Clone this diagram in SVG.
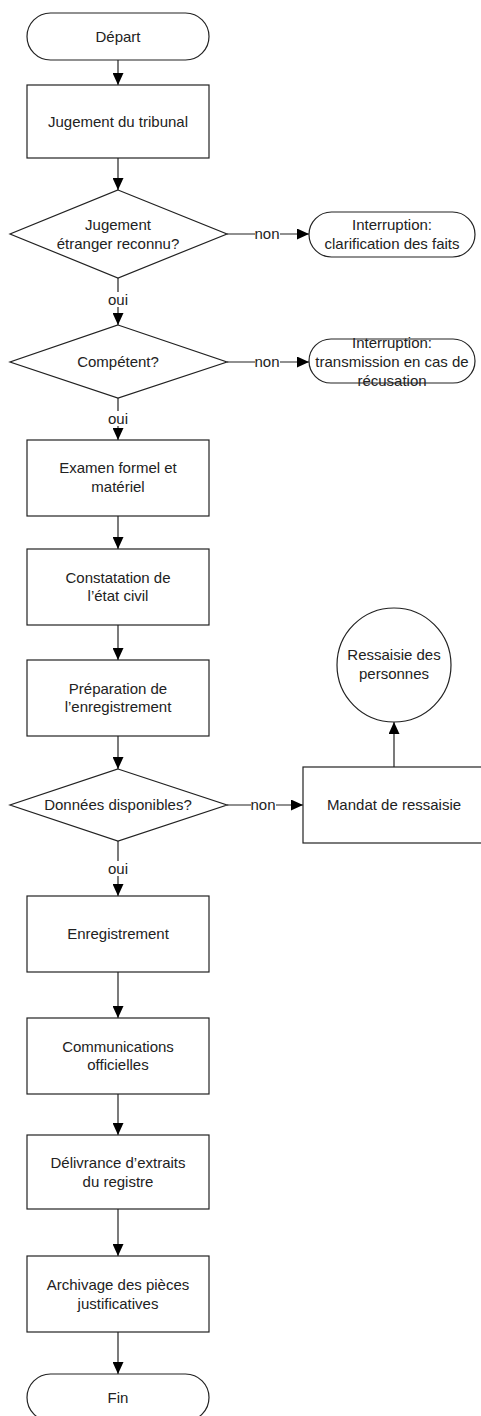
<svg xmlns="http://www.w3.org/2000/svg" width="481" height="1416" viewBox="0 0 481 1416">
<defs>
<marker id="arr" markerUnits="userSpaceOnUse" markerWidth="12" markerHeight="11" viewBox="0 0 12 11" refX="12" refY="5.5" orient="auto">
<path d="M0,0 L12,5.5 L0,11 z" fill="#000"/>
</marker>
<style>
.s{fill:#fff;stroke:#222;stroke-width:1.2}
.c{fill:none;stroke:#222;stroke-width:1.2}
text{font-family:"Liberation Sans",Arial,sans-serif;font-size:15px;fill:#222;text-anchor:middle}
.lb{fill:#fff;stroke:none}
</style>
</defs>
<rect width="481" height="1416" fill="#fff"/>
<g id="connectors">
<line class="c" x1="118" y1="60" x2="118" y2="85" marker-end="url(#arr)"/>
<line class="c" x1="118" y1="158" x2="118" y2="190" marker-end="url(#arr)"/>
<line class="c" x1="227" y1="234" x2="309" y2="234" marker-end="url(#arr)"/>
<rect class="lb" x="255" y="226" width="25" height="16"/>
<text x="267" y="239">non</text>
<line class="c" x1="118" y1="278" x2="118" y2="325" marker-end="url(#arr)"/>
<rect class="lb" x="106" y="292" width="24" height="15"/>
<text x="118" y="305">oui</text>
<line class="c" x1="227" y1="362" x2="309" y2="362" marker-end="url(#arr)"/>
<rect class="lb" x="255" y="354" width="25" height="16"/>
<text x="267" y="367">non</text>
<line class="c" x1="118" y1="398" x2="118" y2="440" marker-end="url(#arr)"/>
<rect class="lb" x="106" y="411" width="24" height="15"/>
<text x="118" y="424">oui</text>
<line class="c" x1="118" y1="516" x2="118" y2="549" marker-end="url(#arr)"/>
<line class="c" x1="118" y1="625" x2="118" y2="660" marker-end="url(#arr)"/>
<line class="c" x1="118" y1="736" x2="118" y2="769" marker-end="url(#arr)"/>
<line class="c" x1="227" y1="805" x2="303" y2="805" marker-end="url(#arr)"/>
<rect class="lb" x="251" y="797" width="25" height="16"/>
<text x="263" y="810">non</text>
<line class="c" x1="394" y1="767" x2="394" y2="722" marker-end="url(#arr)"/>
<line class="c" x1="118" y1="841" x2="118" y2="896" marker-end="url(#arr)"/>
<rect class="lb" x="106" y="861" width="24" height="15"/>
<text x="118" y="874">oui</text>
<line class="c" x1="118" y1="972" x2="118" y2="1018" marker-end="url(#arr)"/>
<line class="c" x1="118" y1="1094" x2="118" y2="1135" marker-end="url(#arr)"/>
<line class="c" x1="118" y1="1209" x2="118" y2="1256" marker-end="url(#arr)"/>
<line class="c" x1="118" y1="1332" x2="118" y2="1374" marker-end="url(#arr)"/>
</g>
<g id="depart">
<rect class="s" x="27" y="13" width="182" height="47" rx="23.5"/>
<text x="118" y="42">Départ</text>
</g>
<g id="jugement">
<rect class="s" x="27" y="85" width="182" height="73"/>
<text x="118" y="127">Jugement du tribunal</text>
</g>
<g id="decision1">
<polygon class="s" points="118,190 227,234 118,278 10,234"/>
<text x="118" y="230">Jugement</text>
<text x="118" y="249">étranger reconnu?</text>
</g>
<g id="interruption1">
<rect class="s" x="309" y="212" width="166" height="45" rx="22.5"/>
<text x="392" y="230">Interruption:</text>
<text x="392" y="249">clarification des faits</text>
</g>
<g id="decision2">
<polygon class="s" points="118,325 227,362 118,398 10,362"/>
<text x="118" y="367">Compétent?</text>
</g>
<g id="interruption2">
<rect class="s" x="309" y="339" width="166" height="44" rx="22"/>
<text x="392" y="348">Interruption:</text>
<text x="392" y="367">transmission en cas de</text>
<text x="392" y="386">récusation</text>
</g>
<g id="examen">
<rect class="s" x="27" y="440" width="182" height="76"/>
<text x="118" y="473">Examen formel et</text>
<text x="118" y="492">matériel</text>
</g>
<g id="constatation">
<rect class="s" x="27" y="549" width="182" height="76"/>
<text x="118" y="583">Constatation de</text>
<text x="118" y="601">l’état civil</text>
</g>
<g id="preparation">
<rect class="s" x="27" y="660" width="182" height="76"/>
<text x="118" y="694">Préparation de</text>
<text x="118" y="712">l’enregistrement</text>
</g>
<g id="decision3">
<polygon class="s" points="118,769 227,805 118,841 10,805"/>
<text x="118" y="810">Données disponibles?</text>
</g>
<g id="mandat">
<rect class="s" x="303" y="767" width="182" height="76"/>
<text x="394" y="810">Mandat de ressaisie</text>
</g>
<g id="ressaisie">
<circle class="s" cx="394" cy="665" r="57"/>
<text x="394" y="660">Ressaisie des</text>
<text x="394" y="679">personnes</text>
</g>
<g id="enregistrement">
<rect class="s" x="27" y="896" width="182" height="76"/>
<text x="118" y="939">Enregistrement</text>
</g>
<g id="communications">
<rect class="s" x="27" y="1018" width="182" height="76"/>
<text x="118" y="1052">Communications</text>
<text x="118" y="1070">officielles</text>
</g>
<g id="delivrance">
<rect class="s" x="27" y="1135" width="182" height="74"/>
<text x="118" y="1168">Délivrance d’extraits</text>
<text x="118" y="1187">du registre</text>
</g>
<g id="archivage">
<rect class="s" x="27" y="1256" width="182" height="76"/>
<text x="118" y="1290">Archivage des pièces</text>
<text x="118" y="1309">justificatives</text>
</g>
<g id="fin">
<rect class="s" x="27" y="1374" width="182" height="47" rx="23.5"/>
<text x="118" y="1403">Fin</text>
</g>
</svg>
